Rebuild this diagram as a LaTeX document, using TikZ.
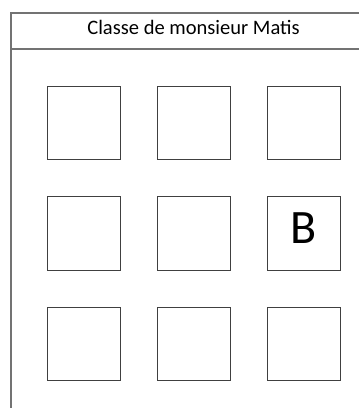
\documentclass[tikz,border=0pt]{standalone}
\usepackage{fontspec}
\setmainfont{Carlito}
\usepackage{tikz}
\usetikzlibrary{positioning}

\begin{document}
\begin{tikzpicture}[
    x=0.75pt, y=-0.75pt,
    node distance=27pt and 27pt,
    seat/.style={draw=black!75, line width=0.75pt, minimum width=54.75pt, minimum height=55pt, inner sep=0pt},
    frame/.style={draw=black!55, line width=0.9pt}
]
\useasboundingbox (0,0) rectangle (359,408);

% Frame
\draw[frame] (359,13) -- (11,13) -- (11,408);
\draw[frame] (11,49) -- (359,49);
\node (title) at (193.5,27.5) {\fontsize{15.4}{17}\selectfont Classe de monsieur Matis};

% Seats
\node (s11) [seat] at (83.5,123) {};
\node (s12) [seat, right=of s11] {};
\node (s13) [seat, right=of s12] {};
\node (s21) [seat, below=of s11] {};
\node (s22) [seat, right=of s21] {};
\node (s23) [seat, right=of s22, font=\fontsize{36}{36}\selectfont, text depth=7.5pt] {B};
\node (s31) [seat, below=of s21] {};
\node (s32) [seat, right=of s31] {};
\node (s33) [seat, right=of s32] {};

\end{tikzpicture}
\end{document}
